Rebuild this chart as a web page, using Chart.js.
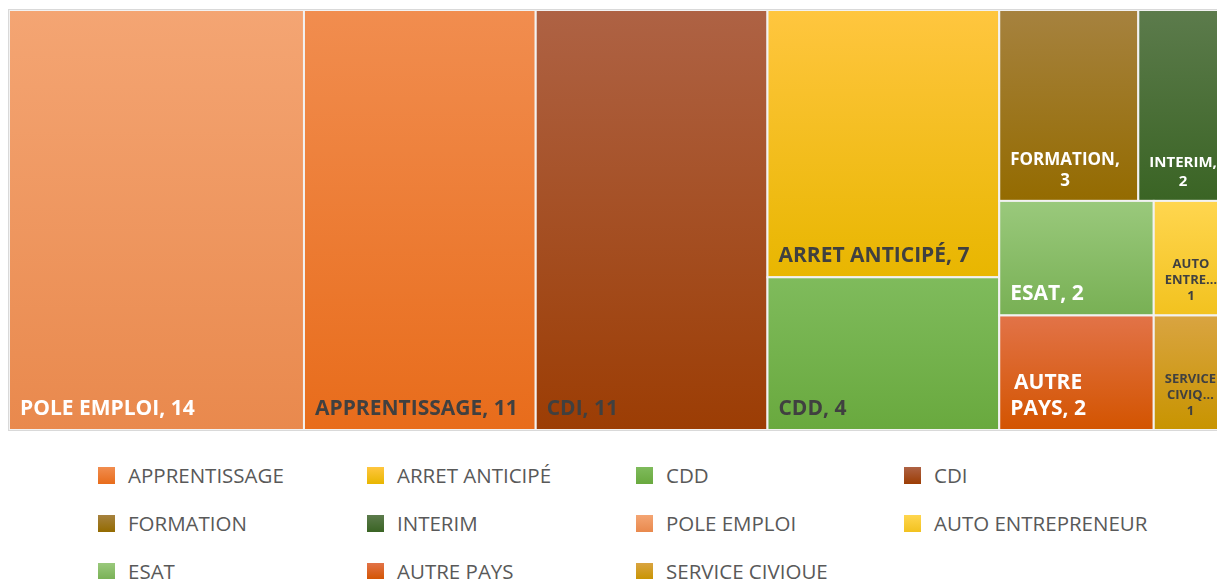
<!DOCTYPE html>
<html>

<head>
    <meta charset="utf-8">
    <title>Treemap - sorties</title>
    <script src="https://cdn.jsdelivr.net/npm/chart.js@4.4.1/dist/chart.umd.min.js"></script>
    <style>
    html,
    body {
        margin: 0;
        padding: 0;
        overflow: hidden;
        background: #fff;
    }

    #wrap {
        position: absolute;
        left: 0;
        top: 0;
        width: 1240px;
        height: 440px;
    }

    #legend {
        position: absolute;
        left: 98px;
        top: 451px;
        display: grid;
        grid-template-columns: 269px 269px 268px 269px;
        grid-auto-rows: 48px;
        font-family: "Open Sans", sans-serif;
        font-size: 20.5px;
        color: #595959;
    }

    #legend div {
        display: flex;
        align-items: center;
        white-space: nowrap;
    }

    #legend span {
        display: inline-block;
        width: 17px;
        height: 17px;
        margin-right: 13px;
    }
    </style>
</head>

<body>
    <div id="wrap"><canvas id="chartJSContainer"></canvas></div>
    <div id="legend"></div>
    <script>
    // categories and values, in legend order
    var categories = ['APPRENTISSAGE', 'ARRET ANTICIPÉ', 'CDD', 'CDI', 'FORMATION', 'INTERIM',
        'POLE EMPLOI', 'AUTO ENTREPRENEUR', 'ESAT', 'AUTRE PAYS', 'SERVICE CIVIQUE'];
    var values = [11, 7, 4, 11, 3, 2, 14, 1, 2, 2, 1];

    // gradient top / bottom per category
    var colorTop = ['#f18d4f', '#ffc63f', '#7fbb5c', '#ae6244', '#a6823f', '#5c7b4c',
        '#f4a573', '#ffd64f', '#9ac97c', '#e27348', '#d9a441'];
    var colorBottom = ['#e86c1b', '#e8b600', '#69a93e', '#9c3d04', '#946b00', '#3a6424',
        '#e9894d', '#f2c21f', '#78b054', '#d35400', '#c89400'];
    var labelColor = ['#404040', '#404040', '#404040', '#404040', '#ffffff', '#ffffff',
        '#ffffff', '#404040', '#ffffff', '#ffffff', '#404040'];

    // legend
    var legend = document.getElementById('legend');
    categories.forEach(function(c, i) {
        var d = document.createElement('div');
        d.innerHTML = '<span style="background:linear-gradient(' + colorTop[i] + ',' + colorBottom[i] + ')"></span>' + c;
        legend.appendChild(d);
    });

    // squarified layout, average aspect ratio rule
    function avgRatio(row, side) {
        var sum = row.reduce(function(s, it) { return s + it.area; }, 0);
        var t = sum / side;
        var r = 0;
        row.forEach(function(it) {
            var len = it.area / t;
            r += Math.max(len / t, t / len);
        });
        return r / row.length;
    }

    function squarify(items, x, y, w, h) {
        var out = [];
        var i = 0;
        while (i < items.length) {
            var side = Math.min(w, h);
            var row = [items[i]];
            var best = avgRatio(row, side);
            i++;
            while (i < items.length) {
                var r = avgRatio(row.concat([items[i]]), side);
                if (r <= best) {
                    row.push(items[i]);
                    best = r;
                    i++;
                } else break;
            }
            var sum = row.reduce(function(s, it) { return s + it.area; }, 0);
            if (w >= h) {
                var t = sum / h, yy = y;
                row.forEach(function(it) {
                    var hh = it.area / t;
                    out.push({ item: it, x: x, y: yy, w: t, h: hh });
                    yy += hh;
                });
                x += t; w -= t;
            } else {
                var t2 = sum / w, xx = x;
                row.forEach(function(it) {
                    var ww = it.area / t2;
                    out.push({ item: it, x: xx, y: y, w: ww, h: t2 });
                    xx += ww;
                });
                y += t2; h -= t2;
            }
        }
        return out;
    }

    function fitLabel(ctx, text, maxW) {
        var words = text.split(' ');
        var sizes = [21, 19, 17, 15, 14, 13];
        var size = 13;
        for (var s = 0; s < sizes.length; s++) {
            ctx.font = 'bold ' + sizes[s] + 'px "Open Sans"';
            var ok = words.every(function(wd) { return ctx.measureText(wd).width <= maxW; });
            if (ok) { size = sizes[s]; break; }
        }
        ctx.font = 'bold ' + size + 'px "Open Sans"';
        words = words.map(function(wd) {
            if (ctx.measureText(wd).width <= maxW) return wd;
            var t = wd;
            while (t.length > 1 && ctx.measureText(t + '…').width > maxW) t = t.slice(0, -1);
            return t + '…';
        });
        // wrap from the end
        var lines = [];
        var cur = words[words.length - 1];
        for (var k = words.length - 2; k >= 0; k--) {
            var test = words[k] + ' ' + cur;
            if (ctx.measureText(test).width <= maxW) cur = test;
            else { lines.unshift(cur); cur = words[k]; }
        }
        lines.unshift(cur);
        return { size: size, lines: lines };
    }

    var treemapPlugin = {
        id: 'treemap',
        afterDatasetsDraw: function(chart) {
            var ctx = chart.ctx;
            var xs = chart.scales.x, ys = chart.scales.y;
            var area = chart.chartArea;
            var W = area.right - area.left, H = area.bottom - area.top;
            var total = values.reduce(function(a, b) { return a + b; }, 0);
            var items = categories.map(function(c, i) {
                return { idx: i, name: c, value: values[i], area: values[i] / total * W * H };
            });
            items.sort(function(a, b) { return b.value - a.value; });
            var rects = squarify(items, 0, 0, W, H);

            ctx.save();
            rects.forEach(function(r) {
                var i = r.item.idx;
                var x0 = xs.getPixelForValue(r.x / W), x1 = xs.getPixelForValue((r.x + r.w) / W);
                var y0 = ys.getPixelForValue(r.y / H), y1 = ys.getPixelForValue((r.y + r.h) / H);
                var g = ctx.createLinearGradient(0, y0, 0, y1);
                g.addColorStop(0, colorTop[i]);
                g.addColorStop(1, colorBottom[i]);
                ctx.fillStyle = g;
                ctx.fillRect(x0, y0, x1 - x0, y1 - y0);
                ctx.strokeStyle = '#f2f2f2';
                ctx.lineWidth = 2;
                ctx.strokeRect(x0, y0, x1 - x0, y1 - y0);

                var lab = fitLabel(ctx, r.item.name + ', ' + r.item.value, x1 - x0 - 22);
                ctx.font = 'bold ' + lab.size + 'px "Open Sans"';
                ctx.fillStyle = labelColor[i];
                ctx.textBaseline = 'alphabetic';
                ctx.textAlign = 'center';
                var bw = Math.max.apply(null, lab.lines.map(function(l) { return ctx.measureText(l).width; }));
                var cx = x0 + 11 + bw / 2;
                var lh = lab.size * 1.24;
                var base = y1 - 15;
                for (var k = lab.lines.length - 1; k >= 0; k--) {
                    ctx.fillText(lab.lines[k], cx, base);
                    base -= lh;
                }
            });
            ctx.strokeStyle = '#d9d9d9';
            ctx.lineWidth = 1;
            ctx.strokeRect(area.left - 0.5, area.top - 0.5, W + 1, H + 1);
            ctx.restore();
        }
    };

    var options = {
        type: 'scatter',
        data: {
            datasets: [{ label: 'sorties', data: [] }]
        },
        options: {
            responsive: true,
            maintainAspectRatio: false,
            animation: false,
            layout: { padding: { left: 9, top: 10, right: 9, bottom: 10 } },
            scales: {
                x: { type: 'linear', min: 0, max: 1, display: false },
                y: { type: 'linear', min: 0, max: 1, reverse: true, display: false }
            },
            plugins: {
                legend: { display: false },
                tooltip: { enabled: false }
            }
        },
        plugins: [treemapPlugin]
    };

    var ctx = document.getElementById('chartJSContainer').getContext('2d');
    window.test = new Chart(ctx, options);
    </script>
</body>

</html>
